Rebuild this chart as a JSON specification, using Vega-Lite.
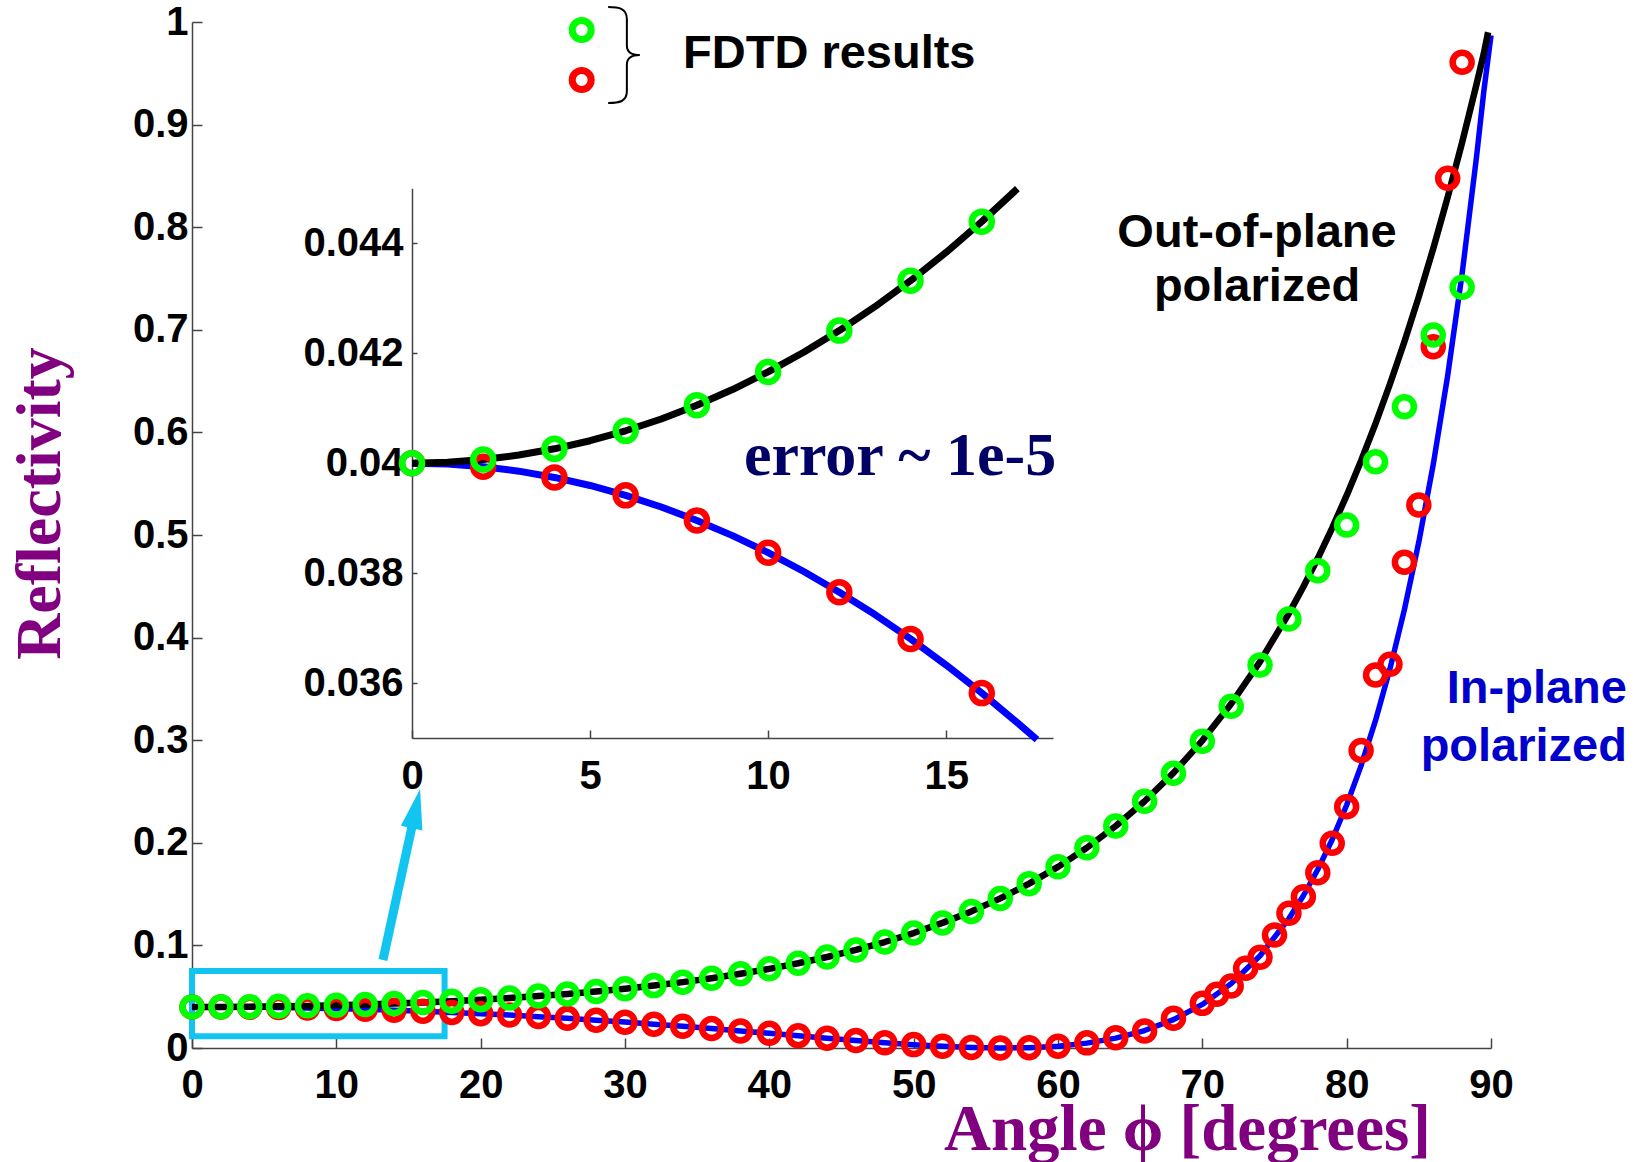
{
  "$schema": "https://vega.github.io/schema/vega-lite/v6.json",
  "width": 1299,
  "height": 1026,
  "autosize": {"type": "none"},
  "padding": {"left": 192, "top": 22, "right": 144, "bottom": 114},
  "background": "white",
  "config": {
    "view": {"stroke": null},
    "axis": {
      "grid": false,
      "domainColor": "#444444",
      "domainWidth": 1.5,
      "tickColor": "#444444",
      "tickWidth": 1.5,
      "labelFont": "Liberation Sans",
      "labelFontWeight": "bold",
      "labelFontSize": 40,
      "labelColor": "black",
      "labelFlush": false,
      "labelOverlap": false
    }
  },
  "datasets": {
    "rs": [
      {"angle": 0, "R": 0.04}, {"angle": 2, "R": 0.04007}, {"angle": 4, "R": 0.04026}, {"angle": 6, "R": 0.04059},
      {"angle": 8, "R": 0.04105}, {"angle": 10, "R": 0.04166}, {"angle": 12, "R": 0.04241}, {"angle": 14, "R": 0.04332},
      {"angle": 16, "R": 0.04439}, {"angle": 18, "R": 0.04564}, {"angle": 20, "R": 0.04708}, {"angle": 22, "R": 0.04873},
      {"angle": 24, "R": 0.0506}, {"angle": 26, "R": 0.05272}, {"angle": 28, "R": 0.0551}, {"angle": 30, "R": 0.0578},
      {"angle": 32, "R": 0.06082}, {"angle": 34, "R": 0.06422}, {"angle": 36, "R": 0.06804}, {"angle": 38, "R": 0.07234},
      {"angle": 40, "R": 0.07716}, {"angle": 42, "R": 0.08258}, {"angle": 44, "R": 0.08868}, {"angle": 46, "R": 0.09555},
      {"angle": 48, "R": 0.1033}, {"angle": 50, "R": 0.11205}, {"angle": 52, "R": 0.12194}, {"angle": 54, "R": 0.13313},
      {"angle": 56, "R": 0.14582}, {"angle": 58, "R": 0.16021}, {"angle": 60, "R": 0.17657}, {"angle": 62, "R": 0.19518},
      {"angle": 64, "R": 0.21638}, {"angle": 66, "R": 0.24054}, {"angle": 68, "R": 0.26811}, {"angle": 70, "R": 0.2996},
      {"angle": 72, "R": 0.33556}, {"angle": 74, "R": 0.37666}, {"angle": 76, "R": 0.42362}, {"angle": 77, "R": 0.44957},
      {"angle": 78, "R": 0.47729}, {"angle": 79, "R": 0.50693}, {"angle": 80, "R": 0.53859}, {"angle": 81, "R": 0.57243},
      {"angle": 82, "R": 0.60857}, {"angle": 83, "R": 0.64717}, {"angle": 84, "R": 0.68837}, {"angle": 85, "R": 0.73234},
      {"angle": 86, "R": 0.77926}, {"angle": 87, "R": 0.8293}, {"angle": 88, "R": 0.88264}, {"angle": 89, "R": 0.93947},
      {"angle": 89.5, "R": 0.96925}, {"angle": 89.8, "R": 0.99}
    ],
    "rp": [
      {"angle": 0, "R": 0.04}, {"angle": 2, "R": 0.03994}, {"angle": 4, "R": 0.03974}, {"angle": 6, "R": 0.03942},
      {"angle": 8, "R": 0.03896}, {"angle": 10, "R": 0.03837}, {"angle": 12, "R": 0.03765}, {"angle": 14, "R": 0.0368},
      {"angle": 16, "R": 0.03582}, {"angle": 18, "R": 0.0347}, {"angle": 20, "R": 0.03345}, {"angle": 22, "R": 0.03207},
      {"angle": 24, "R": 0.03056}, {"angle": 26, "R": 0.02891}, {"angle": 28, "R": 0.02714}, {"angle": 30, "R": 0.02525},
      {"angle": 32, "R": 0.02324}, {"angle": 34, "R": 0.02113}, {"angle": 36, "R": 0.01892}, {"angle": 38, "R": 0.01664},
      {"angle": 40, "R": 0.01431}, {"angle": 42, "R": 0.01195}, {"angle": 44, "R": 0.00961}, {"angle": 46, "R": 0.00734},
      {"angle": 48, "R": 0.0052}, {"angle": 50, "R": 0.00328}, {"angle": 52, "R": 0.00167}, {"angle": 54, "R": 0.00053},
      {"angle": 56, "R": 0.00001}, {"angle": 58, "R": 0.00034}, {"angle": 60, "R": 0.0018}, {"angle": 62, "R": 0.00475},
      {"angle": 64, "R": 0.00962}, {"angle": 66, "R": 0.01702}, {"angle": 68, "R": 0.02766}, {"angle": 70, "R": 0.04249},
      {"angle": 72, "R": 0.06273}, {"angle": 74, "R": 0.08994}, {"angle": 76, "R": 0.12614}, {"angle": 77, "R": 0.1484},
      {"angle": 78, "R": 0.17395}, {"angle": 79, "R": 0.20325}, {"angle": 80, "R": 0.23682}, {"angle": 81, "R": 0.27525},
      {"angle": 82, "R": 0.31925}, {"angle": 83, "R": 0.36961}, {"angle": 84, "R": 0.42726}, {"angle": 85, "R": 0.49325},
      {"angle": 86, "R": 0.56885}, {"angle": 87, "R": 0.65547}, {"angle": 88, "R": 0.75483}, {"angle": 89, "R": 0.86892},
      {"angle": 89.5, "R": 0.93216}, {"angle": 90, "R": 0.987}
    ],
    "fdtd_s": [
      {"angle": 0, "R": 0.04}, {"angle": 2, "R": 0.0401}, {"angle": 4, "R": 0.0403}, {"angle": 6, "R": 0.0406},
      {"angle": 8, "R": 0.0411}, {"angle": 10, "R": 0.0417}, {"angle": 12, "R": 0.0424}, {"angle": 14, "R": 0.0433},
      {"angle": 16, "R": 0.0444}, {"angle": 18, "R": 0.0456}, {"angle": 20, "R": 0.0471}, {"angle": 22, "R": 0.0487},
      {"angle": 24, "R": 0.0506}, {"angle": 26, "R": 0.0527}, {"angle": 28, "R": 0.0551}, {"angle": 30, "R": 0.0578},
      {"angle": 32, "R": 0.0608}, {"angle": 34, "R": 0.0642}, {"angle": 36, "R": 0.068}, {"angle": 38, "R": 0.0723},
      {"angle": 40, "R": 0.0772}, {"angle": 42, "R": 0.0826}, {"angle": 44, "R": 0.0887}, {"angle": 46, "R": 0.0956},
      {"angle": 48, "R": 0.1033}, {"angle": 50, "R": 0.112}, {"angle": 52, "R": 0.1219}, {"angle": 54, "R": 0.1331},
      {"angle": 56, "R": 0.1458}, {"angle": 58, "R": 0.1602}, {"angle": 60, "R": 0.1766}, {"angle": 62, "R": 0.1952},
      {"angle": 64, "R": 0.2164}, {"angle": 66, "R": 0.2405}, {"angle": 68, "R": 0.2677}, {"angle": 70, "R": 0.2989},
      {"angle": 72, "R": 0.333}, {"angle": 74, "R": 0.3733}, {"angle": 76, "R": 0.4181}, {"angle": 78, "R": 0.4652},
      {"angle": 80, "R": 0.5097}, {"angle": 82, "R": 0.5714}, {"angle": 84, "R": 0.625}, {"angle": 86, "R": 0.6949},
      {"angle": 88, "R": 0.7414}
    ],
    "fdtd_p": [
      {"angle": 0, "R": 0.04}, {"angle": 2, "R": 0.0399}, {"angle": 4, "R": 0.0397}, {"angle": 6, "R": 0.0394},
      {"angle": 8, "R": 0.039}, {"angle": 10, "R": 0.0384}, {"angle": 12, "R": 0.0377}, {"angle": 14, "R": 0.0368},
      {"angle": 16, "R": 0.0358}, {"angle": 18, "R": 0.0347}, {"angle": 20, "R": 0.0335}, {"angle": 22, "R": 0.0321},
      {"angle": 24, "R": 0.0306}, {"angle": 26, "R": 0.0289}, {"angle": 28, "R": 0.0271}, {"angle": 30, "R": 0.0252},
      {"angle": 32, "R": 0.0232}, {"angle": 34, "R": 0.0211}, {"angle": 36, "R": 0.0189}, {"angle": 38, "R": 0.0166},
      {"angle": 40, "R": 0.0143}, {"angle": 42, "R": 0.012}, {"angle": 44, "R": 0.0096}, {"angle": 46, "R": 0.0073},
      {"angle": 48, "R": 0.0052}, {"angle": 50, "R": 0.0033}, {"angle": 52, "R": 0.0017}, {"angle": 54, "R": 0.0005},
      {"angle": 56, "R": 0.0}, {"angle": 58, "R": 0.0003}, {"angle": 60, "R": 0.0018}, {"angle": 62, "R": 0.005},
      {"angle": 64, "R": 0.01}, {"angle": 66, "R": 0.0166}, {"angle": 68, "R": 0.0289}, {"angle": 70, "R": 0.0435},
      {"angle": 71, "R": 0.0523}, {"angle": 72, "R": 0.0604}, {"angle": 73, "R": 0.0777}, {"angle": 74, "R": 0.0884},
      {"angle": 75, "R": 0.1101}, {"angle": 76, "R": 0.1313}, {"angle": 77, "R": 0.1475}, {"angle": 78, "R": 0.1709},
      {"angle": 79, "R": 0.1995}, {"angle": 80, "R": 0.2352}, {"angle": 81, "R": 0.29}, {"angle": 82, "R": 0.3635},
      {"angle": 83, "R": 0.374}, {"angle": 84, "R": 0.4734}, {"angle": 85, "R": 0.5292}, {"angle": 86, "R": 0.6835},
      {"angle": 87, "R": 0.8477}, {"angle": 88, "R": 0.9607}
    ],
    "inset_rs": [
      {"angle": 0, "R": 0.04}, {"angle": 1, "R": 0.040016}, {"angle": 2, "R": 0.040065}, {"angle": 3, "R": 0.040147},
      {"angle": 4, "R": 0.040261}, {"angle": 5, "R": 0.040408}, {"angle": 6, "R": 0.040589}, {"angle": 7, "R": 0.040804},
      {"angle": 8, "R": 0.041054}, {"angle": 9, "R": 0.041339}, {"angle": 10, "R": 0.04166}, {"angle": 11, "R": 0.042017},
      {"angle": 12, "R": 0.042412}, {"angle": 13, "R": 0.042846}, {"angle": 14, "R": 0.04332}, {"angle": 15, "R": 0.043835},
      {"angle": 16, "R": 0.044393}, {"angle": 17, "R": 0.044993}
    ],
    "inset_rp": [
      {"angle": 0, "R": 0.04}, {"angle": 1, "R": 0.039984}, {"angle": 2, "R": 0.039935}, {"angle": 3, "R": 0.039854},
      {"angle": 4, "R": 0.03974}, {"angle": 5, "R": 0.039594}, {"angle": 6, "R": 0.039415}, {"angle": 7, "R": 0.039203},
      {"angle": 8, "R": 0.038958}, {"angle": 9, "R": 0.038681}, {"angle": 10, "R": 0.038372}, {"angle": 11, "R": 0.038029},
      {"angle": 12, "R": 0.037653}, {"angle": 13, "R": 0.037246}, {"angle": 14, "R": 0.036802}, {"angle": 15, "R": 0.036326},
      {"angle": 16, "R": 0.035818}, {"angle": 17, "R": 0.035278}, {"angle": 17.55, "R": 0.03497}
    ],
    "inset_s": [
      {"angle": 0, "R": 0.04}, {"angle": 2, "R": 0.040065}, {"angle": 4, "R": 0.040261}, {"angle": 6, "R": 0.040589},
      {"angle": 8, "R": 0.041054}, {"angle": 10, "R": 0.04166}, {"angle": 12, "R": 0.042412}, {"angle": 14, "R": 0.04332},
      {"angle": 16, "R": 0.044393}
    ],
    "inset_p": [
      {"angle": 0, "R": 0.04}, {"angle": 2, "R": 0.039935}, {"angle": 4, "R": 0.03974}, {"angle": 6, "R": 0.039415},
      {"angle": 8, "R": 0.038958}, {"angle": 10, "R": 0.038372}, {"angle": 12, "R": 0.037653}, {"angle": 14, "R": 0.036802},
      {"angle": 16, "R": 0.035818}
    ]
  },
  "layer": [
    {
      "layer": [
        {
          "data": {"values": [{}]},
          "mark": {"type": "rect", "filled": false, "color": "#12C4F0", "strokeWidth": 6},
          "encoding": {
            "x": {"datum": 0, "type": "quantitative", "title": "Angle ϕ [degrees]", "scale": {"domain": [0, 90], "nice": false},
              "axis": {"values": [0, 10, 20, 30, 40, 50, 60, 70, 80, 90], "tickSize": -10, "labelPadding": 27,
                "titleFont": "Liberation Serif", "titleFontSize": 65, "titleFontWeight": "bold", "titleColor": "#800080",
                "titleX": 995, "titleY": 101, "titleAlign": "center", "titleBaseline": "alphabetic"}},
            "x2": {"datum": 17.5},
            "y": {"datum": 0.0114, "type": "quantitative", "title": "Reflectivity", "scale": {"domain": [0, 1], "nice": false},
              "axis": {"values": [0, 0.1, 0.2, 0.3, 0.4, 0.5, 0.6, 0.7, 0.8, 0.9, 1], "format": ".1~f", "tickSize": -10, "labelPadding": 14,
                "titleFont": "Liberation Serif", "titleFontSize": 64, "titleFontWeight": "bold", "titleColor": "#800080",
                "titleX": -133, "titleY": 481, "titleAngle": 270, "titleAlign": "center", "titleBaseline": "alphabetic"}},
            "y2": {"datum": 0.075}
          }
        },
        {
          "data": {"values": [{}]},
          "mark": {"type": "rule", "color": "#12C4F0", "strokeWidth": 9, "strokeCap": "butt"},
          "encoding": {
            "x": {"datum": 13.23, "type": "quantitative", "title": "Angle ϕ [degrees]", "scale": {"domain": [0, 90], "nice": false}},
            "x2": {"datum": 15.28},
            "y": {"datum": 0.0858, "type": "quantitative", "title": "Reflectivity", "scale": {"domain": [0, 1], "nice": false}},
            "y2": {"datum": 0.2183}
          }
        },
        {
          "data": {"values": [{}]},
          "mark": {"type": "point", "shape": "M0,-1L0.55,1L-0.55,1Z", "filled": true, "color": "#12C4F0", "size": 1600, "angle": 12.2, "opacity": 1},
          "encoding": {
            "x": {"datum": 15.51, "type": "quantitative", "title": "Angle ϕ [degrees]", "scale": {"domain": [0, 90], "nice": false}},
            "y": {"datum": 0.2334, "type": "quantitative", "title": "Reflectivity", "scale": {"domain": [0, 1], "nice": false}}
          }
        },
        {
          "data": {"name": "rp"},
          "mark": {"type": "line", "color": "#0000FF", "strokeWidth": 5.5, "strokeJoin": "round"},
          "encoding": {
            "x": {"field": "angle", "type": "quantitative", "title": "Angle ϕ [degrees]", "scale": {"domain": [0, 90], "nice": false}},
            "y": {"field": "R", "type": "quantitative", "title": "Reflectivity", "scale": {"domain": [0, 1], "nice": false}}
          }
        },
        {
          "data": {"name": "rs"},
          "mark": {"type": "line", "color": "#000000", "strokeWidth": 6.5, "strokeJoin": "round"},
          "encoding": {
            "x": {"field": "angle", "type": "quantitative", "title": "Angle ϕ [degrees]", "scale": {"domain": [0, 90], "nice": false}},
            "y": {"field": "R", "type": "quantitative", "title": "Reflectivity", "scale": {"domain": [0, 1], "nice": false}}
          }
        },
        {
          "data": {"name": "fdtd_p"},
          "mark": {"type": "point", "shape": "circle", "filled": false, "color": "#FF0000", "strokeWidth": 6.5, "size": 361, "opacity": 1},
          "encoding": {
            "x": {"field": "angle", "type": "quantitative", "title": "Angle ϕ [degrees]", "scale": {"domain": [0, 90], "nice": false}},
            "y": {"field": "R", "type": "quantitative", "title": "Reflectivity", "scale": {"domain": [0, 1], "nice": false}}
          }
        },
        {
          "data": {"name": "fdtd_s"},
          "mark": {"type": "point", "shape": "circle", "filled": false, "color": "#00FF00", "strokeWidth": 6.5, "size": 361, "opacity": 1},
          "encoding": {
            "x": {"field": "angle", "type": "quantitative", "title": "Angle ϕ [degrees]", "scale": {"domain": [0, 90], "nice": false}},
            "y": {"field": "R", "type": "quantitative", "title": "Reflectivity", "scale": {"domain": [0, 1], "nice": false}}
          }
        },
        {
          "data": {"values": [{}]},
          "mark": {"type": "point", "shape": "circle", "filled": false, "color": "#00FF00", "strokeWidth": 7, "size": 361, "opacity": 1},
          "encoding": {
            "x": {"datum": 27.0, "type": "quantitative", "title": "Angle ϕ [degrees]", "scale": {"domain": [0, 90], "nice": false}},
            "y": {"datum": 0.9922, "type": "quantitative", "title": "Reflectivity", "scale": {"domain": [0, 1], "nice": false}}
          }
        },
        {
          "data": {"values": [{}]},
          "mark": {"type": "point", "shape": "circle", "filled": false, "color": "#FF0000", "strokeWidth": 7, "size": 361, "opacity": 1},
          "encoding": {
            "x": {"datum": 27.0, "type": "quantitative", "title": "Angle ϕ [degrees]", "scale": {"domain": [0, 90], "nice": false}},
            "y": {"datum": 0.9435, "type": "quantitative", "title": "Reflectivity", "scale": {"domain": [0, 1], "nice": false}}
          }
        },
        {
          "data": {"values": [{}]},
          "mark": {"type": "point", "shape": "M-0.33,-1C-0.1,-1 0.06,-0.97 0.06,-0.75L0.06,-0.2C0.06,-0.06 0.15,0 0.33,0C0.15,0 0.06,0.06 0.06,0.2L0.06,0.75C0.06,0.97 -0.1,1 -0.33,1", "filled": false, "color": "#000000", "strokeWidth": 2, "size": 9216, "opacity": 1},
          "encoding": {
            "x": {"datum": 29.93, "type": "quantitative", "title": "Angle ϕ [degrees]", "scale": {"domain": [0, 90], "nice": false}},
            "y": {"datum": 0.9678, "type": "quantitative", "title": "Reflectivity", "scale": {"domain": [0, 1], "nice": false}}
          }
        },
        {
          "data": {"values": [{}]},
          "mark": {"type": "text", "text": "FDTD results", "font": "Liberation Sans", "fontWeight": "bold", "fontSize": 47, "align": "left", "baseline": "alphabetic", "color": "#000000"},
          "encoding": {
            "x": {"datum": 34.02, "type": "quantitative", "title": "Angle ϕ [degrees]", "scale": {"domain": [0, 90], "nice": false}},
            "y": {"datum": 0.9549, "type": "quantitative", "title": "Reflectivity", "scale": {"domain": [0, 1], "nice": false}}
          }
        },
        {
          "data": {"values": [{}]},
          "mark": {"type": "text", "text": ["Out-of-plane", "polarized"], "lineHeight": 54, "font": "Liberation Sans", "fontWeight": "bold", "fontSize": 47, "align": "center", "baseline": "alphabetic", "color": "#000000"},
          "encoding": {
            "x": {"datum": 73.79, "type": "quantitative", "title": "Angle ϕ [degrees]", "scale": {"domain": [0, 90], "nice": false}},
            "y": {"datum": 0.781, "type": "quantitative", "title": "Reflectivity", "scale": {"domain": [0, 1], "nice": false}}
          }
        },
        {
          "data": {"values": [{}]},
          "mark": {"type": "text", "text": ["In-plane", "polarized"], "lineHeight": 58, "font": "Liberation Sans", "fontWeight": "bold", "fontSize": 47, "align": "right", "baseline": "alphabetic", "color": "#0000CC"},
          "encoding": {
            "x": {"datum": 99.42, "type": "quantitative", "title": "Angle ϕ [degrees]", "scale": {"domain": [0, 90], "nice": false}},
            "y": {"datum": 0.3363, "type": "quantitative", "title": "Reflectivity", "scale": {"domain": [0, 1], "nice": false}}
          }
        }
      ]
    },
    {
      "layer": [
        {
          "data": {"name": "inset_rp"},
          "mark": {"type": "line", "color": "#0000FF", "strokeWidth": 7, "strokeJoin": "round"},
          "encoding": {
            "x": {"field": "angle", "type": "quantitative", "title": null, "scale": {"domain": [0, 18], "range": [220, 861], "nice": false},
              "axis": {"orient": "bottom", "offset": -310, "values": [0, 5, 10, 15], "format": "~g", "tickSize": -8, "labelPadding": 26}},
            "y": {"field": "R", "type": "quantitative", "title": null, "scale": {"domain": [0.035, 0.045], "range": [716, 166.3], "nice": false, "zero": false},
              "axis": {"orient": "left", "offset": -220, "values": [0.036, 0.038, 0.04, 0.042, 0.044], "format": ".3~f", "tickSize": -5, "labelPadding": 14}}
          }
        },
        {
          "data": {"name": "inset_rs"},
          "mark": {"type": "line", "color": "#000000", "strokeWidth": 7, "strokeJoin": "round"},
          "encoding": {
            "x": {"field": "angle", "type": "quantitative", "title": null, "scale": {"domain": [0, 18], "range": [220, 861], "nice": false}},
            "y": {"field": "R", "type": "quantitative", "title": null, "scale": {"domain": [0.035, 0.045], "range": [716, 166.3], "nice": false, "zero": false}}
          }
        },
        {
          "data": {"name": "inset_p"},
          "mark": {"type": "point", "shape": "circle", "filled": false, "color": "#FF0000", "strokeWidth": 6.5, "size": 400, "opacity": 1},
          "encoding": {
            "x": {"field": "angle", "type": "quantitative", "title": null, "scale": {"domain": [0, 18], "range": [220, 861], "nice": false}},
            "y": {"field": "R", "type": "quantitative", "title": null, "scale": {"domain": [0.035, 0.045], "range": [716, 166.3], "nice": false, "zero": false}}
          }
        },
        {
          "data": {"name": "inset_s"},
          "mark": {"type": "point", "shape": "circle", "filled": false, "color": "#00FF00", "strokeWidth": 6.5, "size": 400, "opacity": 1},
          "encoding": {
            "x": {"field": "angle", "type": "quantitative", "title": null, "scale": {"domain": [0, 18], "range": [220, 861], "nice": false}},
            "y": {"field": "R", "type": "quantitative", "title": null, "scale": {"domain": [0.035, 0.045], "range": [716, 166.3], "nice": false, "zero": false}}
          }
        },
        {
          "data": {"values": [{}]},
          "mark": {"type": "text", "text": "error ~ 1e-5", "font": "Liberation Serif", "fontWeight": "bold", "fontSize": 62, "align": "left", "baseline": "alphabetic", "color": "#000066"},
          "encoding": {
            "x": {"datum": 9.32, "type": "quantitative", "title": null, "scale": {"domain": [0, 18], "range": [220, 861], "nice": false}},
            "y": {"datum": 0.039784, "type": "quantitative", "title": null, "scale": {"domain": [0.035, 0.045], "range": [716, 166.3], "nice": false, "zero": false}}
          }
        }
      ]
    }
  ],
  "resolve": {"scale": {"x": "independent", "y": "independent"}}
}
